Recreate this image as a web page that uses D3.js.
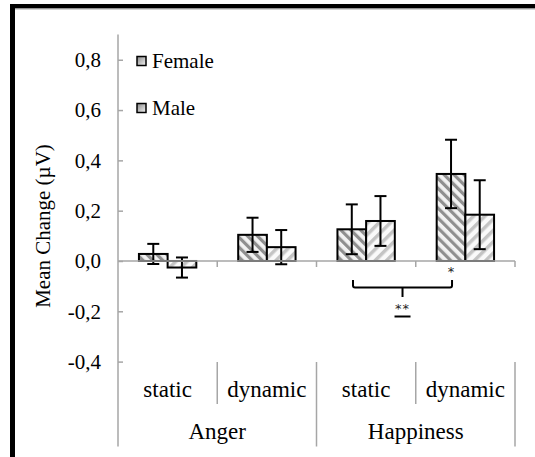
<!DOCTYPE html>
<html lang="en">
<head>
<meta charset="utf-8">
<title>Mean Change</title>
<script src="https://cdnjs.cloudflare.com/ajax/libs/d3/7.8.5/d3.min.js"></script>
<style>
body { margin: 0; background: #fff; }
</style>
</head>
<body>
<div id="chart"></div>
<script>

var conditions = ['Anger static', 'Anger dynamic', 'Happiness static', 'Happiness dynamic']
var subLabels = ['static', 'dynamic', 'static', 'dynamic']
var emotions = ['Anger', 'Happiness']
var sexes = ['Female', 'Male']
var femaleMean = [0.028, 0.104, 0.126, 0.346]
var femaleErr = [0.040, 0.068, 0.099, 0.136]
var maleMean = [-0.026, 0.055, 0.159, 0.184]
var maleErr = [0.040, 0.068, 0.099, 0.137]
var yTicks = [-0.4, -0.2, 0, 0.2, 0.4, 0.6, 0.8]

var width = 535, height = 457
var axisColor = '#a6a6a6'
var serif = '"Liberation Serif", Tinos, "Times New Roman", "DejaVu Serif", serif'

var svg = d3.select('#chart').append('svg')
    .attr('width', width)
    .attr('height', height)

var defs = svg.append('defs')

// diagonal hatch fills
function hatch(id, angle, bg, fg, size, stripe) {
    var p = defs.append('pattern')
        .attr('id', id)
        .attr('patternUnits', 'userSpaceOnUse')
        .attr('width', size)
        .attr('height', size)
        .attr('patternTransform', 'rotate(' + angle + ')')
    p.append('rect').attr('width', size).attr('height', size).attr('fill', bg)
    p.append('rect').attr('width', stripe).attr('height', size).attr('fill', fg)
}
hatch('hatchFemale', -45, '#f2f2f2', '#8f8f8f', 7, 3.2)
hatch('hatchMale', 45, '#fafafa', '#c4c4c4', 8, 3.5)

var grad = defs.append('linearGradient')
    .attr('id', 'legendGrad')
    .attr('x1', 0).attr('y1', 0).attr('x2', 1).attr('y2', 1)
grad.append('stop').attr('offset', 0).attr('stop-color', '#888')
grad.append('stop').attr('offset', 1).attr('stop-color', '#f4f4f4')

// frame
svg.append('rect').attr('x', 10).attr('y', 4).attr('width', width - 10).attr('height', 4.5).attr('fill', '#000')
svg.append('rect').attr('x', 10).attr('y', 8.5).attr('width', width - 10).attr('height', 1).attr('fill', '#aaa')
svg.append('rect').attr('x', 10).attr('y', 4).attr('width', 5).attr('height', height - 4).attr('fill', '#000')

var plotLeft = 118, plotRight = 515

var y = d3.scaleLinear()
    .domain([-0.4, 0.9])
    .range([361.6, 34.6])

var x0 = d3.scaleBand()
    .domain(conditions)
    .range([plotLeft, plotRight])
    .padding(0)

var x1 = d3.scaleBand()
    .domain(sexes)
    .range([0, x0.bandwidth()])
    .paddingInner(0)
    .paddingOuter(0.73)

var fmt = function(d) { return d3.format('.1f')(d).replace('.', ',').replace('\u2212', '-') }

// y axis
var yAxis = svg.append('g')
    .attr('transform', 'translate(' + plotLeft + ',0)')
    .call(d3.axisLeft(y).tickValues(yTicks).tickSize(-5).tickPadding(17).tickFormat(fmt))
yAxis.attr('font-family', null).attr('font-size', null)
yAxis.select('.domain').remove()
yAxis.selectAll('.tick line').attr('stroke', axisColor).attr('stroke-width', 1.5)
yAxis.selectAll('.tick text').attr('font-size', 21)

svg.append('line')
    .attr('x1', plotLeft).attr('x2', plotLeft)
    .attr('y1', y(0.9)).attr('y2', 446.5)
    .attr('stroke', axisColor).attr('stroke-width', 1.5)

svg.append('text')
    .attr('transform', 'translate(50,' + 226 + ') rotate(-90)')
    .attr('text-anchor', 'middle')
    .attr('font-size', 21)
    .text('Mean Change (\u00b5V)')

// bars
var rows = conditions.map(function(c, i) {
    return [
        { cond: c, sex: 'Female', mean: femaleMean[i], err: femaleErr[i] },
        { cond: c, sex: 'Male', mean: maleMean[i], err: maleErr[i] }
    ]
})

var groups = svg.selectAll('.cond')
    .data(rows)
    .enter().append('g')
    .attr('class', 'cond')
    .attr('transform', function(d, i) { return 'translate(' + x0(conditions[i]) + ',0)' })

groups.selectAll('rect')
    .data(function(d) { return d })
    .enter().append('rect')
    .attr('x', function(d) { return x1(d.sex) })
    .attr('width', x1.bandwidth())
    .attr('y', function(d) { return y(Math.max(0, d.mean)) })
    .attr('height', function(d) { return Math.abs(y(d.mean) - y(0)) })
    .attr('fill', function(d) { return d.sex == 'Female' ? 'url(#hatchFemale)' : 'url(#hatchMale)' })
    .attr('stroke', '#000')
    .attr('stroke-width', 2)

// x axis line and ticks
svg.append('line')
    .attr('x1', plotLeft).attr('x2', plotRight)
    .attr('y1', y(0)).attr('y2', y(0))
    .attr('stroke', axisColor).attr('stroke-width', 1.5)

conditions.forEach(function(c) {
    var xe = x0(c) + x0.bandwidth()
    svg.append('line')
        .attr('x1', xe).attr('x2', xe)
        .attr('y1', y(0)).attr('y2', y(0) + 6)
        .attr('stroke', axisColor).attr('stroke-width', 1.5)
})

// error bars
var capW = 6
var err = groups.selectAll('.err')
    .data(function(d) { return d })
    .enter().append('g')
    .attr('class', 'err')
    .attr('transform', function(d) { return 'translate(' + (x1(d.sex) + x1.bandwidth() / 2) + ',0)' })
err.append('line')
    .attr('y1', function(d) { return y(d.mean + d.err) })
    .attr('y2', function(d) { return y(d.mean - d.err) })
err.append('line')
    .attr('x1', -capW).attr('x2', capW)
    .attr('y1', function(d) { return y(d.mean + d.err) })
    .attr('y2', function(d) { return y(d.mean + d.err) })
err.append('line')
    .attr('x1', -capW).attr('x2', capW)
    .attr('y1', function(d) { return y(d.mean - d.err) })
    .attr('y2', function(d) { return y(d.mean - d.err) })
err.selectAll('line').attr('stroke', '#000').attr('stroke-width', 2)

// multi-level category labels
var labelTop = 362
conditions.forEach(function(c, i) {
    var xs = x0(c), xe = xs + x0.bandwidth()
    svg.append('text')
        .attr('x', (xs + xe) / 2)
        .attr('y', 397)
        .attr('text-anchor', 'middle')
        .attr('font-size', 23)
        .text(subLabels[i])
    svg.append('line')
        .attr('x1', xe).attr('x2', xe)
        .attr('y1', labelTop).attr('y2', i % 2 == 0 ? 404 : 446.5)
        .attr('stroke', axisColor).attr('stroke-width', 1.5)
})
emotions.forEach(function(e, i) {
    var xs = x0(conditions[i * 2]), xe = x0(conditions[i * 2 + 1]) + x0.bandwidth()
    svg.append('text')
        .attr('x', (xs + xe) / 2)
        .attr('y', 439)
        .attr('text-anchor', 'middle')
        .attr('font-size', 23)
        .text(e)
})

// legend
var legend = svg.selectAll('.legend')
    .data(sexes)
    .enter().append('g')
    .attr('class', 'legend')
    .attr('transform', function(d, i) { return 'translate(137,' + (56.5 + i * 47) + ')' })
legend.append('rect')
    .attr('width', 9).attr('height', 9)
    .attr('fill', 'url(#legendGrad)')
    .attr('stroke', '#000').attr('stroke-width', 1.5)
legend.append('text')
    .attr('x', 15).attr('y', 4.5)
    .attr('dy', '0.35em')
    .attr('font-size', 21)
    .text(function(d) { return d })

svg.selectAll('text').attr('font-family', serif).attr('fill', '#000')

// significance marks
var star = '"DejaVu Sans", "Liberation Sans", Arial, sans-serif'
var hd = x0('Happiness dynamic') + x1('Female') + x1.bandwidth() / 2
svg.append('text')
    .attr('x', hd).attr('y', 276)
    .attr('text-anchor', 'middle')
    .attr('font-family', star)
    .attr('font-size', 13)
    .attr('fill', '#222')
    .text('*')

var bx1 = 353, bx2 = hd + 1, bTop = 280, bMid = 287.5, mid = (bx1 + bx2) / 2
svg.append('path')
    .attr('d', 'M' + bx1 + ',' + bTop + ' L' + bx1 + ',' + (bMid - 2) + ' Q' + bx1 + ',' + bMid + ' ' + (bx1 + 2) + ',' + bMid +
        ' L' + (bx2 - 2) + ',' + bMid + ' Q' + bx2 + ',' + bMid + ' ' + bx2 + ',' + (bMid - 2) + ' L' + bx2 + ',' + bTop +
        ' M' + mid + ',' + bMid + ' L' + mid + ',' + 297)
    .attr('fill', 'none')
    .attr('stroke', '#000')
    .attr('stroke-width', 2)

svg.append('text')
    .attr('x', mid).attr('y', 313)
    .attr('text-anchor', 'middle')
    .attr('font-family', star)
    .attr('font-size', 13)
    .attr('letter-spacing', 1)
    .attr('fill', '#222')
    .text('**')
svg.append('line')
    .attr('x1', mid - 8).attr('x2', mid + 8)
    .attr('y1', 316.5).attr('y2', 316.5)
    .attr('stroke', '#000').attr('stroke-width', 2)

</script>
</body>
</html>
